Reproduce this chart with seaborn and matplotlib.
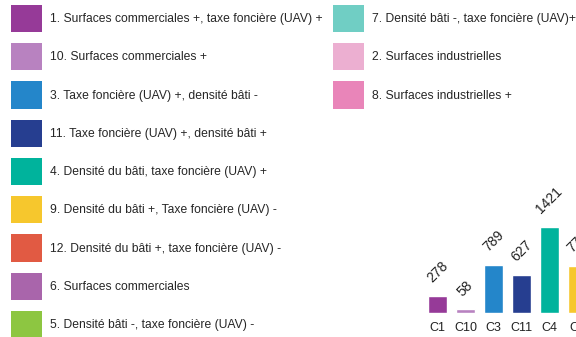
import matplotlib
matplotlib.use("Agg")
import matplotlib.pyplot as plt
from matplotlib.patches import Patch
import seaborn as sns
import pandas as pd

# classes visibles dans le graphique
classes = ["C1", "C10", "C3", "C11", "C4", "C9"]
effectifs = [278, 58, 789, 627, 1421, 775]

# légende (colonne gauche puis droite)
libelles_g = [
    "1. Surfaces commerciales +, taxe foncière (UAV) +",
    "10. Surfaces commerciales +",
    "3. Taxe foncière (UAV) +, densité bâti -",
    "11. Taxe foncière (UAV) +, densité bâti +",
    "4. Densité du bâti, taxe foncière (UAV) +",
    "9. Densité du bâti +, Taxe foncière (UAV) -",
    "12. Densité du bâti +, taxe foncière (UAV) -",
    "6. Surfaces commerciales",
    "5. Densité bâti -, taxe foncière (UAV) -",
]
couleurs_g = ["#963A98", "#B882C0", "#2486CA", "#263E90", "#00B39C",
              "#F6C72D", "#E15A43", "#A965AB", "#8DC641"]
libelles_d = [
    "7. Densité bâti -, taxe foncière (UAV)+",
    "2. Surfaces industrielles",
    "8. Surfaces industrielles +",
]
couleurs_d = ["#70CEC4", "#ECAFD1", "#E985B9"]

couleurs_barres = couleurs_g[:6]

sns.set_theme(style="white")
plt.rcParams["font.family"] = ["Liberation Sans", "DejaVu Sans"]

W, H = 576, 337
fig = plt.figure(figsize=(W / 100, H / 100), dpi=100)

# axes du diagramme, qui depasse du bord droit
x0 = 423.5
pas = 28
base = 312.7
echelle = 0.0605
ymax = 1600
ax = fig.add_axes([x0 / W, (H - base) / H, len(classes) * pas / W, ymax * echelle / H])

df = pd.DataFrame({"classe": classes, "n": effectifs})
sns.barplot(data=df, x="classe", y="n", hue="classe", palette=couleurs_barres,
            legend=False, width=0.68, ax=ax, saturation=1)
ax.set_xlim(-0.5, len(classes) - 0.5)
ax.set_ylim(0, ymax)
ax.set_xlabel("")
ax.set_ylabel("")
ax.set_yticks([])
ax.tick_params(axis="x", length=0, pad=7, labelsize=9, colors="#222222")
for s in ax.spines.values():
    s.set_visible(False)

for i, v in enumerate(effectifs):
    ax.annotate(str(v), (i, v), xytext=(0, 7.5), textcoords="offset points",
                rotation=45, ha="center", va="bottom", fontsize=10, color="#222222",
                annotation_clip=False)

fs = 8.75
kw = dict(loc="upper left", frameon=False, borderpad=0, borderaxespad=0,
          fontsize=fs, handlelength=31 / 1.389 / fs, handleheight=3.07,
          labelspacing=11 / 1.389 / fs, handletextpad=8 / 1.389 / fs,
          bbox_transform=fig.transFigure)
h_g = [Patch(facecolor=c, edgecolor="none") for c in couleurs_g]
h_d = [Patch(facecolor=c, edgecolor="none") for c in couleurs_d]
fig.legend(h_g, libelles_g, bbox_to_anchor=(11 / W, 1 - 5 / H), **kw)
fig.legend(h_d, libelles_d, bbox_to_anchor=(333 / W, 1 - 5 / H), **kw)

fig.savefig("out.png", dpi=100)
